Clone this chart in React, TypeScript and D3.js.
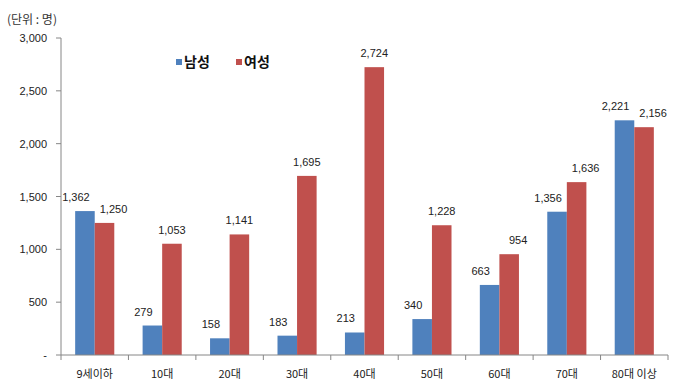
import React from "react";
import * as d3 from "d3";

const categories = ["9세이하", "10대", "20대", "30대", "40대", "50대", "60대", "70대", "80대 이상"];
const maleValues = [1362, 279, 158, 183, 213, 340, 663, 1356, 2221];
const femaleValues = [1250, 1053, 1141, 1695, 2724, 1228, 954, 1636, 2156];
const seriesNames = ["남성", "여성"];
const yTicks = [0, 500, 1000, 1500, 2000, 2500, 3000];
const unitLabel = "(단위 : 명)";

const W = 680;
const H = 387;
const plot = { left: 61, right: 668, top: 38, bottom: 355 };
const colors = ["#4F81BD", "#C0504D"];
const axisColor = "#868686";
const font = "'Liberation Sans', 'Noto Sans CJK KR', sans-serif";
const krFont = "'Noto Sans CJK KR', 'Liberation Sans', sans-serif";

export default function App() {
  const x = d3.scaleBand<string>().domain(categories).range([plot.left, plot.right]).paddingInner(0.42).paddingOuter(0.21);
  const inner = d3.scaleBand<number>().domain([0, 1]).range([0, x.bandwidth()]);
  const y = d3.scaleLinear().domain([0, 3000]).range([plot.bottom, plot.top]);
  const fmt = d3.format(",");
  const step = x.step();
  const series = [maleValues, femaleValues];

  return (
    <svg width={W} height={H} style={{ position: "absolute", left: 0, top: 0, background: "#fff" }}>
      <text x={7} y={24} fontFamily={krFont} fontSize={12} fill="#333">{unitLabel}</text>

      {/* y axis */}
      <line x1={plot.left} x2={plot.left} y1={plot.top} y2={plot.bottom} stroke={axisColor} />
      {yTicks.map((t) => (
        <g key={t}>
          <line x1={plot.left - 5} x2={plot.left} y1={y(t)} y2={y(t)} stroke={axisColor} />
          <text x={47} y={y(t) + 4} textAnchor="end" fontFamily={font} fontSize={11} fill="#222">
            {t === 0 ? "-" : fmt(t)}
          </text>
        </g>
      ))}

      {/* bars */}
      {categories.map((c, i) => (
        <g key={c}>
          {series.map((vals, s) => {
            const bx = (x(c) as number) + (inner(s) as number);
            const bw = inner.bandwidth();
            const v = vals[i];
            const other = series[1 - s][i];
            let dx = 0;
            if (s === 0) dx = -9;
            else if (v - other < 500) dx = 9;
            return (
              <g key={s}>
                <rect x={bx} y={y(v)} width={bw} height={plot.bottom - y(v)} fill={colors[s]} />
                <text x={bx + bw / 2 + dx} y={y(v) - 10} textAnchor="middle" fontFamily={font} fontSize={11} fill="#222">
                  {fmt(v)}
                </text>
              </g>
            );
          })}
        </g>
      ))}

      {/* x axis */}
      <line x1={plot.left} x2={plot.right} y1={plot.bottom} y2={plot.bottom} stroke={axisColor} />
      {d3.range(categories.length + 1).map((k) => (
        <line key={k} x1={plot.left + k * step} x2={plot.left + k * step} y1={plot.bottom} y2={plot.bottom + 5} stroke={axisColor} />
      ))}
      {categories.map((c) => (
        <text key={c} x={(x(c) as number) + x.bandwidth() / 2} y={378} textAnchor="middle" fontFamily={krFont} fontSize={11} fill="#222">
          {c}
        </text>
      ))}

      {/* legend */}
      {seriesNames.map((n, s) => (
        <g key={n} transform={`translate(${176 + s * 60}, 0)`}>
          <rect x={0} y={59} width={6} height={6} fill={colors[s]} />
          <text x={8} y={67} fontFamily={krFont} fontSize={14} fontWeight="bold" fill="#111">{n}</text>
        </g>
      ))}
    </svg>
  );
}
